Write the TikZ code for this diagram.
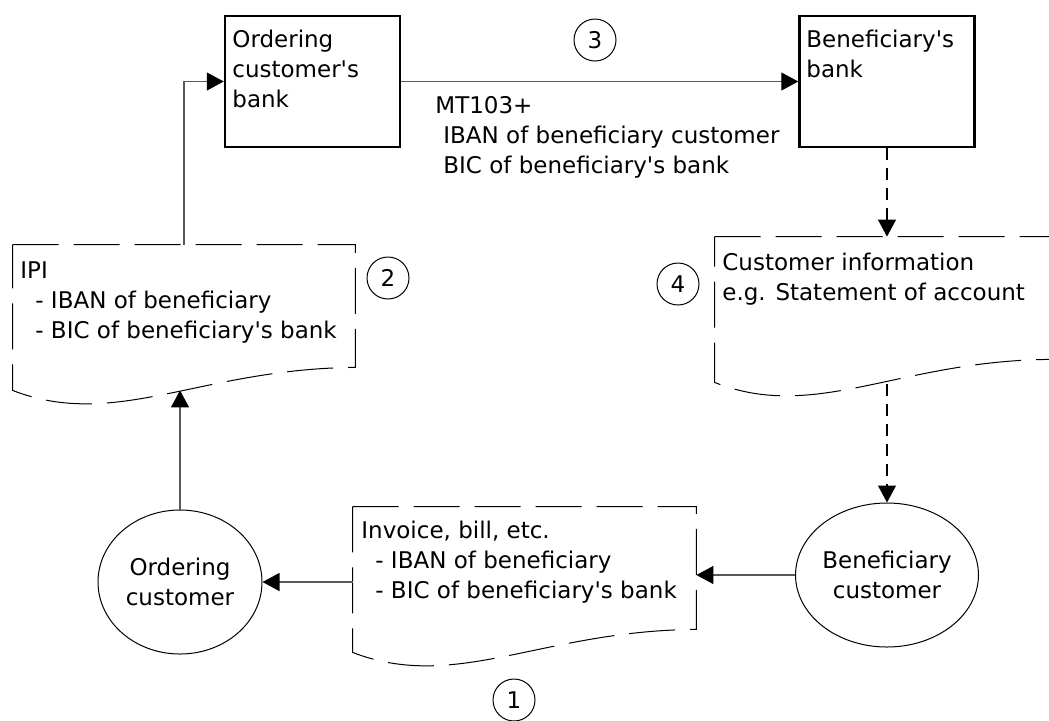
\documentclass[tikz,border=0pt]{standalone}
\usepackage{fontspec}
\setmainfont{DejaVu Sans}[Ligatures=TeXOff]
\usetikzlibrary{arrows.meta, shapes.geometric, positioning, calc}

\tikzset{
    bank/.style={draw, line width=1.25pt, minimum width=87.5pt, minimum height=65.5pt, inner sep=0pt},
    party/.style={draw, ellipse, line width=0.5pt, inner sep=0pt, align=center},
    paper/.style={minimum width=#1, minimum height=72.5pt, inner sep=0pt},
    doc/.style={line width=0.5pt, dash pattern=on 23pt off 7.5pt},
    txt/.style={inner sep=0pt, align=left, anchor=base west},
    stepnum/.style={draw, circle, line width=0.5pt, minimum size=21pt, inner sep=0pt},
    flow/.style={->, line width=0.6pt, draw=black!65},
    info/.style={->, line width=0.6pt, dash pattern=on 6pt off 4pt}
}

% outline of a document with a wavy bottom
\newcommand{\docoutline}[1]{
    \draw[doc] (#1.north west) -- (#1.north east) -- ([yshift=11.5pt]#1.south east)
        .. controls ($(#1.south west)!0.55!(#1.south east)+(0,11pt)$)
        and ($(#1.south west)!0.3!(#1.south east)+(0,-20pt)$) .. (#1.south west) -- cycle;
}

\begin{document}
\begin{tikzpicture}[x=0.5pt, y=-0.5pt, font=\fontsize{11.5}{15}\selectfont,
        >={Triangle[length=8.5pt, width=9pt, color=black]}]
    \useasboundingbox (0,0) rectangle (1049,720);

    % banks
    \node (ocb) at (312.5,81.5)[bank]{};
    \node (bb) at (887,81.5)[bank]{};
    % text anchors sit on the last baseline
    \node (ocbtxt) at (232,107)[txt]{Ordering\\customer's\\bank};
    \node (bbtxt) at (806,77)[txt]{Beneficiary's\\bank};

    % customers
    \node (oc) at (180,582)[party, minimum width=82pt, minimum height=72pt]{Ordering\\customer};
    \node (bc) at (887,575)[party, minimum width=87pt, minimum height=72pt]{Beneficiary\\customer};

    % documents
    \node (ipi) at (184,317.5)[paper=171pt]{};
    \node (cust) at (882.5,309.5)[paper=167.5pt]{};
    \node (inv) at (524.5,579.5)[paper=171.5pt]{};
    \docoutline{ipi}
    \docoutline{cust}
    \docoutline{inv}
    \node (ipitxt) at (20,338)[txt]{IPI\\\hspace*{7.5pt}- IBAN of beneficiary\\\hspace*{7.5pt}- BIC of beneficiary's bank};
    \node (custtxt) at (722,300)[txt]{Customer information\\e.g. Statement of account};
    \node (invtxt) at (361,598)[txt]{Invoice, bill, etc.\\\hspace*{7pt}- IBAN of beneficiary\\\hspace*{7pt}- BIC of beneficiary's bank};
    \node (mt) at (435,173)[txt]{MT103+\\\hspace*{4pt}IBAN of beneficiary customer\\\hspace*{4pt}BIC of beneficiary's bank};

    % steps
    \node (n1) at (514,700)[stepnum]{1};
    \node (n2) at (388,278)[stepnum]{2};
    \node (n3) at (595,40)[stepnum]{3};
    \node (n4) at (678,284)[stepnum]{4};

    % flows
    \draw[flow] (bc.west) -- (bc.west -| inv.east);
    \draw[flow] (oc.east -| inv.west) -- (oc.east);
    \draw[flow] (oc.north) -- (oc.north |- ipi.south);
    \draw[flow] (ipi.north) |- (ocb.west);
    \draw[flow] (ocb.east) -- (bb.west);
    \draw[info] (bb.south) -- (bb.south |- cust.north);
    \draw[info] ([yshift=-1pt]bb.south |- cust.south) -- (bc.north);
\end{tikzpicture}
\end{document}
